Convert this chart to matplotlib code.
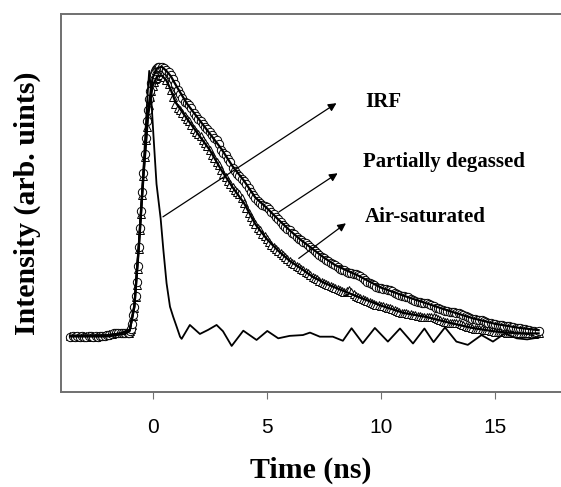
import numpy as np
import matplotlib.pyplot as plt

# time channels (ns): baseline, rising edge (finer), decay
t = np.concatenate([np.linspace(-3.6, -1.1, 26),
                    np.linspace(-1.05, 0.3, 28),
                    np.linspace(0.4, 16.9, 166)])

# partially degassed (circles)
partial = [
    # baseline
    0.0, 0.002, 0.0, 0.001, 0.0, 0.002, 0.0, 0.0, 0.003, 0.001,
    0.0, 0.002, 0.0, 0.003, 0.002, 0.004, 0.006, 0.008, 0.01, 0.012,
    0.014, 0.015, 0.013, 0.012, 0.012, 0.014,
    # rise
    0.015, 0.02, 0.03, 0.045, 0.08, 0.11, 0.15, 0.2, 0.26, 0.33,
    0.4, 0.46, 0.53, 0.6, 0.67, 0.73, 0.79, 0.83, 0.87, 0.9,
    0.93, 0.95, 0.965, 0.975, 0.982, 0.987, 0.99, 0.99,
    # decay
    0.99, 0.985, 0.978, 0.97, 0.96, 0.945, 0.925, 0.905, 0.89, 0.875,
    0.862, 0.856, 0.85, 0.838, 0.822, 0.81, 0.8, 0.792, 0.78, 0.77,
    0.76, 0.75, 0.738, 0.73, 0.722, 0.705, 0.685, 0.672, 0.665, 0.652,
    0.64, 0.618, 0.606, 0.598, 0.59, 0.58, 0.572, 0.56, 0.545, 0.532,
    0.52, 0.508, 0.498, 0.49, 0.484, 0.478, 0.474, 0.468, 0.458, 0.45,
    0.44, 0.43, 0.42, 0.41, 0.402, 0.396, 0.39, 0.382, 0.375, 0.366,
    0.36, 0.354, 0.348, 0.342, 0.338, 0.33, 0.322, 0.316, 0.308, 0.3,
    0.294, 0.288, 0.281, 0.276, 0.27, 0.266, 0.262, 0.256, 0.25, 0.246,
    0.243, 0.238, 0.234, 0.232, 0.231, 0.229, 0.226, 0.222, 0.215, 0.208,
    0.202, 0.197, 0.192, 0.188, 0.183, 0.18, 0.178, 0.176, 0.174, 0.172,
    0.17, 0.166, 0.162, 0.158, 0.154, 0.151, 0.149, 0.147, 0.144, 0.14,
    0.136, 0.132, 0.129, 0.126, 0.124, 0.123, 0.122, 0.119, 0.115, 0.111,
    0.107, 0.104, 0.101, 0.098, 0.096, 0.094, 0.092, 0.09, 0.089, 0.088,
    0.086, 0.084, 0.08, 0.076, 0.072, 0.069, 0.066, 0.064, 0.063, 0.061,
    0.06, 0.058, 0.055, 0.052, 0.05, 0.048, 0.046, 0.044, 0.043, 0.042,
    0.041, 0.04, 0.038, 0.036, 0.035, 0.033, 0.032, 0.031, 0.03, 0.028,
    0.026, 0.024, 0.022, 0.02, 0.018, 0.02]

# air-saturated (triangles)
air = [
    # baseline
    0.001, 0.0, 0.002, 0.0, 0.001, 0.0, 0.002, 0.001, 0.0, 0.003,
    0.001, 0.0, 0.002, 0.002, 0.003, 0.005, 0.007, 0.009, 0.011, 0.013,
    0.014, 0.013, 0.012, 0.012, 0.013, 0.014,
    # rise
    0.014, 0.02, 0.028, 0.042, 0.075, 0.105, 0.145, 0.19, 0.25, 0.32,
    0.39, 0.45, 0.52, 0.59, 0.66, 0.72, 0.77, 0.81, 0.85, 0.88,
    0.9, 0.92, 0.935, 0.945, 0.95, 0.955, 0.958, 0.96,
    # decay
    0.958, 0.952, 0.94, 0.925, 0.905, 0.88, 0.855, 0.838, 0.83, 0.82,
    0.81, 0.8, 0.79, 0.775, 0.76, 0.75, 0.742, 0.735, 0.722, 0.71,
    0.698, 0.685, 0.668, 0.655, 0.642, 0.628, 0.612, 0.598, 0.585, 0.572,
    0.56, 0.548, 0.538, 0.53, 0.522, 0.508, 0.49, 0.472, 0.455, 0.44,
    0.425, 0.412, 0.4, 0.39, 0.378, 0.368, 0.358, 0.348, 0.338, 0.33,
    0.322, 0.315, 0.308, 0.3, 0.292, 0.285, 0.278, 0.272, 0.266, 0.26,
    0.255, 0.25, 0.244, 0.238, 0.232, 0.226, 0.22, 0.215, 0.21, 0.206,
    0.202, 0.198, 0.194, 0.19, 0.186, 0.183, 0.18, 0.176, 0.172, 0.168,
    0.165, 0.168, 0.172, 0.165, 0.156, 0.15, 0.146, 0.142, 0.138, 0.135,
    0.132, 0.128, 0.124, 0.121, 0.118, 0.116, 0.114, 0.112, 0.11, 0.107,
    0.104, 0.1, 0.097, 0.094, 0.091, 0.088, 0.087, 0.086, 0.085, 0.083,
    0.08, 0.078, 0.076, 0.075, 0.074, 0.073, 0.072, 0.072, 0.073, 0.073,
    0.07, 0.066, 0.062, 0.058, 0.055, 0.053, 0.051, 0.05, 0.049, 0.049,
    0.049, 0.047, 0.044, 0.04, 0.037, 0.034, 0.032, 0.03, 0.029, 0.028,
    0.027, 0.026, 0.025, 0.024, 0.022, 0.02, 0.019, 0.018, 0.017, 0.016,
    0.016, 0.015, 0.014, 0.013, 0.013, 0.012, 0.012, 0.012, 0.013, 0.013,
    0.012, 0.012, 0.012, 0.011, 0.012, 0.012]

# fitted curves
fit_t = [-3.6, -2.0, -1.4, -1.0, -0.8, -0.6, -0.4, -0.2, 0.0, 0.2, 0.4, 0.6, 0.8, 1.0,
         1.5, 2.0, 2.5, 3.0, 3.5, 4.0, 4.5, 5.0, 5.5, 6.0, 6.5, 7.0, 7.5, 8.0,
         9.0, 10.0, 11.0, 12.0, 13.0, 14.0, 15.0, 16.0, 16.9]
fit_partial = [0.003, 0.005, 0.012, 0.025, 0.11, 0.34, 0.6, 0.83, 0.95, 0.985, 0.99, 0.975,
               0.955, 0.925, 0.855, 0.8, 0.745, 0.69, 0.625, 0.572, 0.51, 0.472, 0.43,
               0.39, 0.354, 0.322, 0.29, 0.262, 0.224, 0.18, 0.15, 0.122, 0.094, 0.068,
               0.047, 0.033, 0.024]
fit_air = [0.003, 0.005, 0.012, 0.025, 0.11, 0.33, 0.59, 0.81, 0.92, 0.955, 0.958, 0.94,
           0.905, 0.86, 0.8, 0.742, 0.685, 0.612, 0.548, 0.49, 0.412, 0.358, 0.315, 0.278,
           0.25, 0.22, 0.198, 0.18, 0.146, 0.114, 0.087, 0.072, 0.051, 0.032, 0.019,
           0.012, 0.012]

# instrument response function
irf_t = [-3.6, -2.0, -1.6, -1.2, -1.0, -0.8, -0.6, -0.4, -0.25, -0.15, -0.1, 0.03, 0.17,
         0.35, 0.47, 0.61, 0.76, 0.9, 1.05, 1.2, 1.27, 1.63, 2.07, 2.43, 2.8, 3.08,
         3.46, 3.97, 4.55, 5.02, 5.5, 6.0, 6.58, 6.89, 7.32, 7.89, 8.33, 8.71, 9.2,
         9.73, 10.3, 10.83, 11.4, 11.9, 12.3, 12.8, 13.3, 13.8, 14.4, 14.9, 15.42,
         15.94, 16.4, 16.96]
irf = [0.0, 0.0, 0.005, 0.01, 0.02, 0.12, 0.35, 0.62, 0.85, 0.975, 0.93, 0.746, 0.56,
       0.434, 0.318, 0.196, 0.11, 0.073, 0.037, 0.0, -0.008, 0.043, 0.01, 0.025, 0.043,
       0.02, -0.034, 0.022, -0.012, 0.021, -0.006, 0.003, 0.006, 0.015, 0.0, 0.0,
       -0.015, 0.031, -0.024, 0.032, -0.018, 0.03, -0.025, 0.03, -0.02, 0.034, -0.018,
       -0.03, 0.006, -0.018, 0.012, -0.006, -0.01, -0.002]

labels = ["IRF", "Partially degassed", "Air-saturated"]
arrow_start = [(0.35, 0.434), (5.43, 0.452), (6.3, 0.281)]
arrow_end = [(8.15, 0.862), (8.2, 0.605), (8.56, 0.422)]
label_pos = [(9.3, 0.862), (9.2, 0.642), (9.3, 0.44)]

fig = plt.figure(figsize=(5.61, 4.87), dpi=100)
ax = fig.add_axes([0.108, 0.195, 0.892, 0.776])

ax.plot(t, air, linestyle="none", marker="^", markersize=6, markerfacecolor="white",
        markeredgecolor="black", markeredgewidth=0.7)
ax.plot(t, partial, linestyle="none", marker="o", markersize=6, markerfacecolor="white",
        markeredgecolor="black", markeredgewidth=0.7)
ax.plot(fit_t, fit_air, color="black", linewidth=1.6)
ax.plot(fit_t, fit_partial, color="black", linewidth=1.6)
ax.plot(irf_t, irf, color="black", linewidth=1.3)

for lab, s, e, p in zip(labels, arrow_start, arrow_end, label_pos):
    ax.annotate("", xy=e, xytext=s,
                arrowprops=dict(arrowstyle="-|>", color="black", lw=0.9, mutation_scale=12))
    ax.text(p[0], p[1], lab, fontsize=15, fontweight="bold", family="Liberation Serif",
            va="center", ha="left")

ax.set_xlim(-4.03, 17.88)
ax.set_ylim(-0.203, 1.183)
ax.set_xticks([0, 5, 10, 15])
ax.set_yticks([])
ax.tick_params(axis="x", labelsize=15, length=5, color="#707070", pad=14)
for lbl in ax.get_xticklabels():
    lbl.set_family("Liberation Sans")

ax.spines["right"].set_visible(False)
for side in ["left", "top", "bottom"]:
    ax.spines[side].set_color("#707070")
    ax.spines[side].set_linewidth(1.4)

ax.set_xlabel("Time (ns)", fontsize=21.5, fontweight="bold", family="Liberation Serif", labelpad=14)
ax.set_ylabel("Intensity (arb. uints)", fontsize=21.5, fontweight="bold", family="Liberation Serif",
              labelpad=14)

plt.savefig("out.png", dpi=100)
